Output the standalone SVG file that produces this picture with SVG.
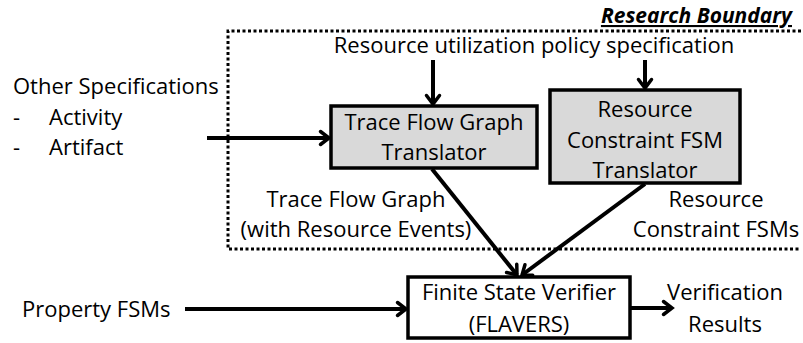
<svg xmlns="http://www.w3.org/2000/svg" width="803" height="343" viewBox="0 0 803 343">
<defs>
<marker id="arr" viewBox="0 0 12 12" refX="10" refY="6" markerWidth="12" markerHeight="12" markerUnits="userSpaceOnUse" orient="auto" overflow="visible">
<path d="M1.5,-0.5 L10,6 L1.5,12.5" fill="none" stroke="#000" stroke-width="3.5" stroke-linecap="round" stroke-linejoin="miter"/>
</marker>
<style>
text{font-family:"Open Sans","Liberation Sans",sans-serif;font-size:22px;fill:#000}
.mid{text-anchor:middle}
.box{stroke:#000;stroke-width:3.5}
.gray{fill:#d9d9d9}
.white{fill:#fff}
.con{stroke:#000;stroke-width:4;fill:none;marker-end:url(#arr)}
</style>
</defs>
<rect width="803" height="343" fill="#fff"/>
<g id="boundary">
<path d="M801,31 H228 V249 H801" fill="none" stroke="#000" stroke-width="3" stroke-dasharray="3 2.5"/>
<text x="792" y="23" text-anchor="end" font-weight="bold" font-style="italic" text-decoration="underline" style="font-size:21px">Research Boundary</text>
</g>
<g id="policy">
<text x="534" y="53" class="mid">Resource utilization policy specification</text>
</g>
<g id="other">
<text x="13" y="94">Other Specifications</text>
<text x="13" y="125">-</text>
<text x="49" y="125">Activity</text>
<text x="13" y="155">-</text>
<text x="49" y="155">Artifact</text>
</g>
<g id="tfg">
<rect x="331" y="106" width="206" height="62" class="box gray"/>
<text x="434" y="130" class="mid">Trace Flow Graph</text>
<text x="434" y="160" class="mid">Translator</text>
</g>
<g id="rcf">
<rect x="550" y="90" width="190" height="93" class="box gray"/>
<text x="645" y="117" class="mid">Resource</text>
<text x="645" y="148" class="mid">Constraint FSM</text>
<text x="645" y="178" class="mid">Translator</text>
</g>
<g id="tfglabel">
<text x="356" y="207" class="mid">Trace Flow Graph</text>
<text x="356" y="237" class="mid">(with Resource Events)</text>
</g>
<g id="rcflabel">
<text x="716" y="207" class="mid">Resource</text>
<text x="716" y="237" class="mid">Constraint FSMs</text>
</g>
<g id="fsv">
<rect x="408" y="277" width="222" height="61" class="box white"/>
<text x="519" y="300" class="mid">Finite State Verifier</text>
<text x="519" y="332" class="mid">(FLAVERS)</text>
</g>
<g id="prop">
<text x="22" y="317">Property FSMs</text>
</g>
<g id="results">
<text x="725" y="300" class="mid">Verification</text>
<text x="725" y="332" class="mid">Results</text>
</g>
<g id="connectors">
<line x1="433" y1="60" x2="433" y2="104" class="con"/>
<line x1="645" y1="60" x2="645" y2="88" class="con"/>
<line x1="207" y1="138" x2="329" y2="138" class="con"/>
<line x1="432" y1="169" x2="517" y2="275" class="con"/>
<line x1="645" y1="184" x2="522" y2="275" class="con"/>
<line x1="185" y1="309" x2="406" y2="309" class="con"/>
<line x1="631" y1="308" x2="672" y2="308" class="con"/>
</g>
</svg>
